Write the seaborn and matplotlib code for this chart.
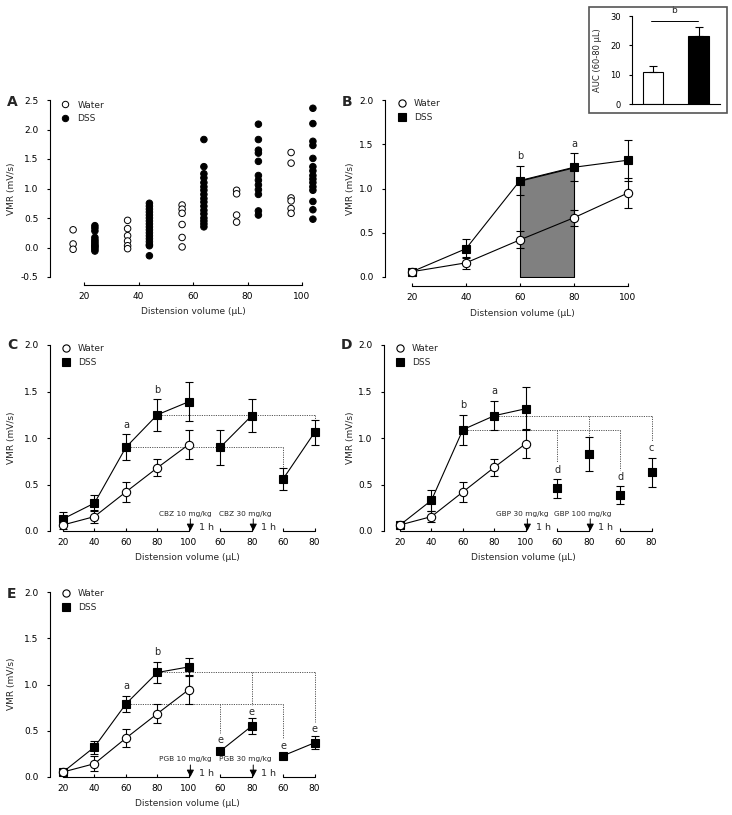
import numpy as np
import pandas as pd
import matplotlib
matplotlib.use("Agg")
import matplotlib.pyplot as plt
import seaborn as sns
from matplotlib.lines import Line2D
from matplotlib.patches import Rectangle

sns.set_theme(style="ticks")
plt.rcParams["font.family"] = ["DejaVu Sans"]
plt.rcParams["axes.unicode_minus"] = False
plt.rcParams["axes.linewidth"] = 0.8

# ---------------- data ----------------
A_VOLUMES = [20, 40, 60, 80, 100]
A_WATER = [
    [0.30, 0.06, -0.03],
    [0.46, 0.32, 0.20, 0.11, 0.03, -0.02],
    [0.72, 0.65, 0.58, 0.39, 0.17, 0.01],
    [0.97, 0.91, 0.55, 0.43],
    [1.61, 1.43, 0.84, 0.79, 0.66, 0.58],
]
A_DSS = [
    [0.37, 0.33, 0.28, 0.17, 0.13, 0.10, 0.07, 0.04, 0.02, 0.00, -0.03, -0.06],
    [0.75, 0.70, 0.65, 0.60, 0.55, 0.50, 0.45, 0.40, 0.35, 0.30, 0.25, 0.20,
     0.15, 0.10, 0.05, 0.03, -0.14],
    [1.83, 1.37, 1.25, 1.18, 1.10, 1.03, 0.97, 0.90, 0.83, 0.77, 0.70, 0.63,
     0.57, 0.50, 0.45, 0.40, 0.35],
    [2.09, 1.83, 1.65, 1.60, 1.46, 1.22, 1.14, 1.06, 0.98, 0.90, 0.62, 0.55],
    [2.36, 2.10, 1.80, 1.73, 1.51, 1.37, 1.30, 1.22, 1.16, 1.10, 1.03, 0.97,
     0.78, 0.64, 0.48],
]

B_VOL = [20, 40, 60, 80, 100]
B_WATER = [0.06, 0.16, 0.42, 0.67, 0.95]
B_WATER_ERR = [0.01, 0.07, 0.095, 0.09, 0.165]
B_DSS = [0.06, 0.32, 1.09, 1.24, 1.32]
B_DSS_ERR = [0.01, 0.11, 0.16, 0.16, 0.23]
B_LETTERS = [(60, 1.37, "b"), (80, 1.50, "a")]

AUC_GROUPS = ["Water", "DSS"]
AUC_MEAN = [11.0, 23.3]
AUC_ERR = [1.8, 2.8]

TREAT_TICKLABELS = ["20", "40", "60", "80", "100", "60", "80", "60", "80"]

C_WATER = [0.065, 0.155, 0.42, 0.68, 0.93]
C_WATER_ERR = [0.04, 0.07, 0.105, 0.09, 0.16]
C_DSS = [0.13, 0.30, 0.90, 1.25, 1.39]
C_DSS_ERR = [0.07, 0.085, 0.14, 0.17, 0.21]
C_DOSE1 = [0.90, 1.24]
C_DOSE1_ERR = [0.19, 0.18]
C_DOSE2 = [0.56, 1.06]
C_DOSE2_ERR = [0.115, 0.13]
C_LETTERS = [(2, 1.14, "a"), (3, 1.52, "b")]
C_DRUGS = ["CBZ 10 mg/kg", "CBZ 30 mg/kg"]

D_WATER = [0.065, 0.155, 0.42, 0.685, 0.94]
D_WATER_ERR = [0.02, 0.06, 0.105, 0.09, 0.16]
D_DSS = [0.065, 0.33, 1.09, 1.24, 1.315]
D_DSS_ERR = [0.02, 0.11, 0.16, 0.155, 0.23]
D_DOSE1 = [0.46, 0.83]
D_DOSE1_ERR = [0.10, 0.18]
D_DOSE2 = [0.39, 0.63]
D_DOSE2_ERR = [0.095, 0.155]
D_LETTERS = [(2, 1.35, "b"), (3, 1.50, "a"), (5, 0.66, "d"), (7, 0.58, "d"), (8, 0.89, "c")]
D_DRUGS = ["GBP 30 mg/kg", "GBP 100 mg/kg"]

E_WATER = [0.054, 0.144, 0.42, 0.685, 0.944]
E_WATER_ERR = [0.02, 0.08, 0.10, 0.10, 0.16]
E_DSS = [0.054, 0.324, 0.79, 1.13, 1.19]
E_DSS_ERR = [0.02, 0.07, 0.087, 0.11, 0.095]
E_DOSE1 = [0.28, 0.55]
E_DOSE1_ERR = [0.0, 0.09]
E_DOSE2 = [0.23, 0.37]
E_DOSE2_ERR = [0.0, 0.07]
E_LETTERS = [(2, 0.98, "a"), (3, 1.35, "b"), (5, 0.40, "e"), (6, 0.70, "e"), (7, 0.34, "e"), (8, 0.515, "e")]
E_DRUGS = ["PGB 10 mg/kg", "PGB 30 mg/kg"]

# ---------------- figure ----------------
W, H = 732, 815
fig = plt.figure(figsize=(W / 100, H / 100), dpi=100)
PX = 72 / 100  # points per pixel
FS = 6.5
LW = 0.8
MS = 6.0


def add_ax(box):
    l, t, r, b = box
    return fig.add_axes([l / W, 1 - b / H, (r - l) / W, (b - t) / H])


def base_style(ax, fs=FS):
    sns.despine(ax=ax)
    for s in ["left", "bottom"]:
        ax.spines[s].set_color("black")
        ax.spines[s].set_linewidth(LW)
    ax.tick_params(axis="y", direction="out", length=2.2, width=LW, pad=6, labelsize=fs, colors="black")
    ax.tick_params(axis="x", direction="in", length=2.5, width=LW, pad=5, labelsize=fs, colors="black")
    ax.set_xlabel("")
    ax.set_ylabel("")
    ax.set_facecolor("none")


def add_legend(ax, box, mx, my, square):
    l, t, r, b = box
    fs = FS
    hl = 1.0
    left = mx - 0.5 * hl * fs / PX
    top = my - 0.62 * fs * 1.2 / PX
    h_w = Line2D([], [], marker="o", ls="none", mfc="white", mec="black", mew=LW, ms=5.2)
    h_d = Line2D([], [], marker="s" if square else "o", ls="none", mfc="black", mec="black", mew=LW, ms=5.2)
    ax.legend([h_w, h_d], ["Water", "DSS"], loc="upper left",
              bbox_to_anchor=((left - l) / (r - l), (b - top) / (b - t)),
              frameon=False, fontsize=fs, handlelength=hl, handletextpad=0.85,
              labelspacing=0.5, borderpad=0, borderaxespad=0)


def draw_series(ax, x, y, err, marker, face, connect=True):
    ax.errorbar(x, y, yerr=err, fmt="none", ecolor="black", elinewidth=LW,
                capsize=2.8, capthick=LW, zorder=2)
    df = pd.DataFrame({"x": x, "y": y})
    if connect:
        sns.lineplot(data=df, x="x", y="y", ax=ax, color="black", lw=LW,
                     marker=marker, markersize=MS, markerfacecolor=face,
                     markeredgecolor="black", markeredgewidth=LW, zorder=3)
    else:
        sns.scatterplot(data=df, x="x", y="y", ax=ax, marker=marker, s=(MS) ** 2,
                        color=face, edgecolor="black", linewidth=LW, zorder=3)


# ---------- Panel A ----------
boxA = (50, 100, 324, 277)
axA = add_ax(boxA)
rows = []
for vol, wv, dv in zip(A_VOLUMES, A_WATER, A_DSS):
    for v in wv:
        rows.append({"x": vol - 4, "vmr": v, "group": "Water"})
    for v in dv:
        rows.append({"x": vol + 4, "vmr": v, "group": "DSS"})
dfA = pd.DataFrame(rows)
sns.scatterplot(data=dfA, x="x", y="vmr", hue="group",
                palette={"Water": "white", "DSS": "black"}, edgecolor="black",
                linewidth=0.7, s=22, legend=False, ax=axA, clip_on=False)
axA.set_xlim(20 - 34 / 2.725, 100 + 22 / 2.725)
axA.set_ylim(-0.5, 2.5)
base_style(axA)
axA.set_xticks(A_VOLUMES)
axA.set_yticks([-0.5, 0, 0.5, 1.0, 1.5, 2.0, 2.5])
axA.set_yticklabels([f"{v:.1f}" for v in [-0.5, 0, 0.5, 1.0, 1.5, 2.0, 2.5]])
axA.spines["bottom"].set_position(("outward", 8 * PX))
axA.spines["bottom"].set_bounds(20, 100)
axA.spines["left"].set_bounds(-0.5, 2.5)
h_w = Line2D([], [], marker="o", ls="none", mfc="white", mec="black", mew=0.7, ms=4.6)
h_d = Line2D([], [], marker="o", ls="none", mfc="black", mec="black", mew=0.7, ms=4.6)
l, t, r, b = boxA
axA.legend([h_w, h_d], ["Water", "DSS"], loc="upper left",
           bbox_to_anchor=((64 - 3.3 - l) / (r - l), (b - 100.5) / (b - t)),
           frameon=False, fontsize=FS, handlelength=1.0, handletextpad=0.85,
           labelspacing=0.5, borderpad=0, borderaxespad=0)

# ---------- Panel B ----------
boxB = (385, 100, 641, 277)
axB = add_ax(boxB)
axB.fill_between(B_VOL[2:4], 0, B_DSS[2:4], facecolor="#808080", edgecolor="black", lw=LW, zorder=1)
draw_series(axB, B_VOL, B_DSS, B_DSS_ERR, "s", "black")
draw_series(axB, B_VOL, B_WATER, B_WATER_ERR, "o", "white")
for x, y, s in B_LETTERS:
    axB.text(x, y, s, ha="center", va="center", fontsize=7)
axB.set_xlim(10, 20 + (641 - 412) / 2.7)
axB.set_ylim(0, 2.0)
base_style(axB)
axB.set_xticks(B_VOL)
axB.set_yticks([0, 0.5, 1.0, 1.5, 2.0])
axB.set_yticklabels([f"{v:.1f}" for v in [0, 0.5, 1.0, 1.5, 2.0]])
axB.spines["bottom"].set_position(("outward", 9 * PX))
axB.spines["bottom"].set_bounds(20, 100)
axB.spines["left"].set_bounds(0, 2.0)
add_legend(axB, boxB, 402, 106, True)

# ---------- Inset ----------
fig.add_artist(Rectangle((589 / W, 1 - 113 / H), (727 - 589) / W, (113 - 7) / H,
                         transform=fig.transFigure, fill=False, edgecolor="#555555", lw=1.2))
boxI = (632, 16, 720, 104)
axI = add_ax(boxI)
sns.barplot(x=AUC_GROUPS, y=AUC_MEAN, hue=AUC_GROUPS, palette=["white", "black"],
            edgecolor="black", linewidth=LW, width=0.45, legend=False, ax=axI)
axI.errorbar([0, 1], AUC_MEAN, yerr=[[0, 0], AUC_ERR], fmt="none", ecolor="black",
             elinewidth=LW, capsize=3.2, capthick=LW, zorder=5)
axI.plot([-0.05, 0.99], [28.3, 28.3], color="black", lw=0.7, clip_on=False)
axI.text(0.47, 30.2, "b", ha="center", va="bottom", fontsize=6.5, clip_on=False)
axI.set_xlim(-0.46, 1.47)
axI.set_ylim(0, 30)
base_style(axI, fs=6.0)
axI.set_xticks([])
axI.set_yticks([0, 10, 20, 30])
axI.spines["left"].set_bounds(0, 30)
fig.text(597 / W, 1 - 60 / H, "AUC (60-80 \u03bcL)", rotation=90, ha="center", va="center", fontsize=6.0)


# ---------- Panels C, D, E ----------
def treatment_panel(box, left_px, water, water_err, dss, dss_err, d1, d1_err, d2, d2_err,
                    letters, drugs, connect_doses, guide_ends, y_text, leg_xy):
    l, t, r, b = box
    ax = add_ax(box)
    pos_main = [0, 1, 2, 3, 4]
    pos_d1 = [5, 6]
    pos_d2 = [7, 8]
    draw_series(ax, pos_main, dss, dss_err, "s", "black")
    draw_series(ax, pos_main, water, water_err, "o", "white")
    draw_series(ax, pos_d1, d1, d1_err, "s", "black", connect=connect_doses)
    draw_series(ax, pos_d2, d2, d2_err, "s", "black", connect=connect_doses)
    for x, y, s in letters:
        ax.text(x, y, s, ha="center", va="center", fontsize=7)
    # dotted guide lines from DSS 60 and DSS 80 to post-drug values
    dot = dict(color="#555555", lw=0.7, ls=(0, (1.2, 1.2)), zorder=1)
    for src, targets in [(2, (5, 7)), (3, (6, 8))]:
        yy = dss[src]
        ax.plot([src, targets[1]], [yy, yy], **dot)
        for tp in targets:
            ax.plot([tp, tp], [yy, guide_ends[tp]], **dot)
    ax.set_xlim(-(left_px[1] - l) / 31.4, 8.3)
    ax.set_ylim(0, 2.0)
    base_style(ax)
    ax.spines["bottom"].set_visible(False)
    ax.set_xticks(range(9))
    ax.set_xticklabels(TREAT_TICKLABELS)
    ax.set_yticks([0, 0.5, 1.0, 1.5, 2.0])
    ax.set_yticklabels([f"{v:.1f}" for v in [0, 0.5, 1.0, 1.5, 2.0]])
    ax.spines["left"].set_bounds(0, 2.0)
    for seg in [(0, 4), (5, 6), (7, 8)]:
        ax.plot(seg, [0, 0], color="black", lw=LW, clip_on=False, zorder=4)
    for xa, drug, xt in [(4.05, drugs[0], 3.9), (6.05, drugs[1], 5.8)]:
        ax.annotate("", xy=(xa, 0.0), xytext=(xa, 0.13),
                    arrowprops=dict(arrowstyle="-|>,head_length=0.35,head_width=0.18",
                                    color="black", lw=0.7, shrinkA=0, shrinkB=0))
        ax.text(xt, y_text, drug, ha="center", va="center", fontsize=5.3)
        ax.text(xa + 0.5, 0.035, "1 h", ha="center", va="center", fontsize=6.8)
    add_legend(ax, box, leg_xy[0], leg_xy[1], True)
    return ax


def ends_from(letters, d1, d1_err, d2, d2_err):
    vals = {5: d1[0] + d1_err[0], 6: d1[1] + d1_err[1], 7: d2[0] + d2_err[0], 8: d2[1] + d2_err[1]}
    for x, y, s in letters:
        if x >= 5:
            vals[x] = y + 0.08
    return vals


boxC = (50, 345, 324, 531)
treatment_panel(boxC, (50, 63), C_WATER, C_WATER_ERR, C_DSS, C_DSS_ERR,
                C_DOSE1, C_DOSE1_ERR, C_DOSE2, C_DOSE2_ERR, C_LETTERS, C_DRUGS, True,
                ends_from(C_LETTERS, C_DOSE1, C_DOSE1_ERR, C_DOSE2, C_DOSE2_ERR), 0.18, (66, 351))

boxD = (384, 345, 661, 531)
treatment_panel(boxD, (384, 400), D_WATER, D_WATER_ERR, D_DSS, D_DSS_ERR,
                D_DOSE1, D_DOSE1_ERR, D_DOSE2, D_DOSE2_ERR, D_LETTERS, D_DRUGS, False,
                ends_from(D_LETTERS, D_DOSE1, D_DOSE1_ERR, D_DOSE2, D_DOSE2_ERR), 0.18, (400, 351))

boxE = (50, 592, 324, 777)
treatment_panel(boxE, (50, 63), E_WATER, E_WATER_ERR, E_DSS, E_DSS_ERR,
                E_DOSE1, E_DOSE1_ERR, E_DOSE2, E_DOSE2_ERR, E_LETTERS, E_DRUGS, True,
                ends_from(E_LETTERS, E_DOSE1, E_DOSE1_ERR, E_DOSE2, E_DOSE2_ERR), 0.19, (66, 596))

# ---------- labels ----------
for s, x, y in [("A", 12, 102), ("B", 347, 102), ("C", 12, 345), ("D", 347, 345), ("E", 12, 594)]:
    fig.text(x / W, 1 - y / H, s, fontweight="bold", fontsize=10, ha="center", va="center")
for x, y in [(12, 189), (350, 189), (12, 438), (350, 438), (12, 684)]:
    fig.text(x / W, 1 - y / H, "VMR (mV/s)", rotation=90, ha="center", va="center", fontsize=FS)
for x, y in [(193, 312), (522, 313), (187, 558), (523, 558), (187, 803)]:
    fig.text(x / W, 1 - y / H, "Distension volume (\u03bcL)", ha="center", va="center", fontsize=FS)

fig.savefig("out.png", dpi=100, facecolor="white")
